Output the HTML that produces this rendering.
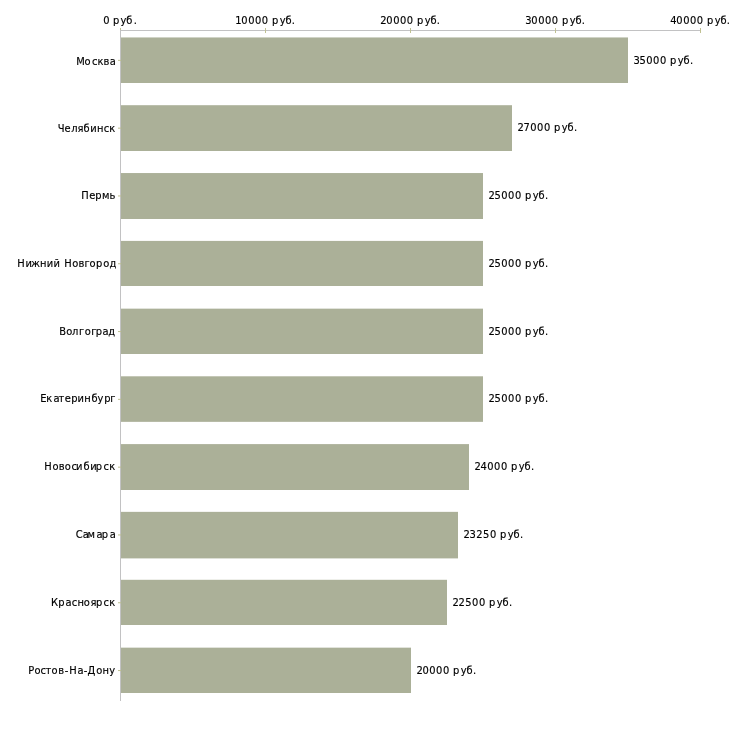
<!DOCTYPE html>
<html lang="ru"><head><meta charset="utf-8"><title>Зарплата по городам</title>
<style>
html,body{margin:0;padding:0;background:#fff;}
body{width:730px;height:730px;overflow:hidden;position:relative;}
svg{position:absolute;left:0;top:0;display:block;}
text{font-family:"DejaVu Sans Condensed","DejaVu Sans","Liberation Sans",sans-serif;font-size:11px;font-stretch:condensed;fill:#000;stroke:#000;stroke-width:0.15px;font-kerning:none;white-space:pre;}
.b{fill:#abb098;}
.ax{fill:#c2c2c3;}
.tk{fill:#c0c192;}
</style></head><body>
<svg width="730" height="730" viewBox="0 0 730 730">
<g class="b">
<rect x="121" y="37.45" width="507" height="45.55"/>
<rect x="121" y="105.20" width="391" height="45.80"/>
<rect x="121" y="173.05" width="362" height="45.95"/>
<rect x="121" y="240.90" width="362" height="45.10"/>
<rect x="121" y="308.65" width="362" height="45.35"/>
<rect x="121" y="376.30" width="362" height="45.55"/>
<rect x="121" y="444.10" width="348" height="45.90"/>
<rect x="121" y="511.85" width="337" height="46.55"/>
<rect x="121" y="579.80" width="326" height="45.20"/>
<rect x="121" y="647.65" width="290" height="45.35"/>
</g>
<rect class="ax" x="120" y="30" width="581" height="1"/>
<g class="tk">
<rect x="120" y="28" width="1" height="5"/>
<rect x="265" y="28" width="1" height="5"/>
<rect x="410" y="28" width="1" height="5"/>
<rect x="555" y="28" width="1" height="5"/>
<rect x="700" y="28" width="1" height="5"/>
</g>
<rect class="ax" x="120" y="30" width="1" height="671"/>
<g class="tk">
<rect x="118" y="59.85" width="3" height="1"/>
<rect x="118" y="127.65" width="3" height="1"/>
<rect x="118" y="195.45" width="3" height="1"/>
<rect x="118" y="263.25" width="3" height="1"/>
<rect x="118" y="331.05" width="3" height="1"/>
<rect x="118" y="398.85" width="3" height="1"/>
<rect x="118" y="466.65" width="3" height="1"/>
<rect x="118" y="534.45" width="3" height="1"/>
<rect x="118" y="602.25" width="3" height="1"/>
<rect x="118" y="670.05" width="3" height="1"/>
</g>
<text y="24" x="103.20 109.50 112.90 120.60 126.26 133.70">0 руб.</text>
<text y="24" x="235.30 241.30 248.15 255.00 261.80 268.00 272.00 279.75 285.45 291.80">10000 руб.</text>
<text y="24" x="380.30 386.30 393.15 400.00 406.80 413.00 417.00 424.75 430.45 436.80">20000 руб.</text>
<text y="24" x="525.30 531.30 538.15 545.00 551.80 558.00 562.00 569.75 575.45 581.80">30000 руб.</text>
<text y="24" x="670.30 676.30 683.15 690.00 696.80 703.00 707.00 714.75 720.45 726.80">40000 руб.</text>
<text y="65" x="76.18 84.54 92.02 97.47 103.43 109.67">Москва</text>
<text y="132" x="57.67 64.54 71.18 77.45 83.52 90.23 97.12 103.70 109.24">Челябинск</text>
<text y="199" x="81.22 89.31 95.16 101.90 109.51">Пермь</text>
<text y="267" x="17.13 25.44 30.91 40.11 46.67 53.52 59.52 64.25 72.20 78.60 84.38 89.53 96.06 103.26 109.38">Нижний Новгород</text>
<text y="335" x="59.28 66.19 71.99 79.02 84.76 91.18 95.84 102.61 108.15">Волгоград</text>
<text y="402" x="40.31 46.37 53.59 58.62 64.72 71.22 77.59 84.13 91.50 97.52 104.18 110.31">Екатеринбург</text>
<text y="470" x="44.17 52.40 58.65 64.86 71.59 76.09 83.45 90.13 95.78 103.51 109.26">Новосибирск</text>
<text y="538" x="75.66 82.72 87.59 96.58 101.72 109.63">Самара</text>
<text y="606" x="51.08 58.17 65.58 71.82 77.41 83.78 90.38 96.06 103.60 109.24">Красноярск</text>
<text y="674" x="28.21 34.47 40.48 45.39 51.48 58.37 64.70 69.36 77.62 83.68 87.59 96.31 102.54 109.25">Ростов-На-Дону</text>
<text y="64" x="633.40 639.40 646.25 653.10 659.90 666.10 670.10 677.85 683.55 689.90">35000 руб.</text>
<text y="131" x="517.40 523.40 530.25 537.10 543.90 550.10 554.10 561.85 567.55 573.90">27000 руб.</text>
<text y="199" x="488.40 494.40 501.25 508.10 514.90 521.10 525.10 532.85 538.55 544.90">25000 руб.</text>
<text y="267" x="488.40 494.40 501.25 508.10 514.90 521.10 525.10 532.85 538.55 544.90">25000 руб.</text>
<text y="335" x="488.40 494.40 501.25 508.10 514.90 521.10 525.10 532.85 538.55 544.90">25000 руб.</text>
<text y="402" x="488.40 494.40 501.25 508.10 514.90 521.10 525.10 532.85 538.55 544.90">25000 руб.</text>
<text y="470" x="474.40 480.40 487.25 494.10 500.90 507.10 511.10 518.85 524.55 530.90">24000 руб.</text>
<text y="538" x="463.40 469.40 476.25 483.10 489.90 496.10 500.10 507.85 513.55 519.90">23250 руб.</text>
<text y="606" x="452.40 458.40 465.25 472.10 478.90 485.10 489.10 496.85 502.55 508.90">22500 руб.</text>
<text y="674" x="416.40 422.40 429.25 436.10 442.90 449.10 453.10 460.85 466.55 472.90">20000 руб.</text>
</svg></body></html>
